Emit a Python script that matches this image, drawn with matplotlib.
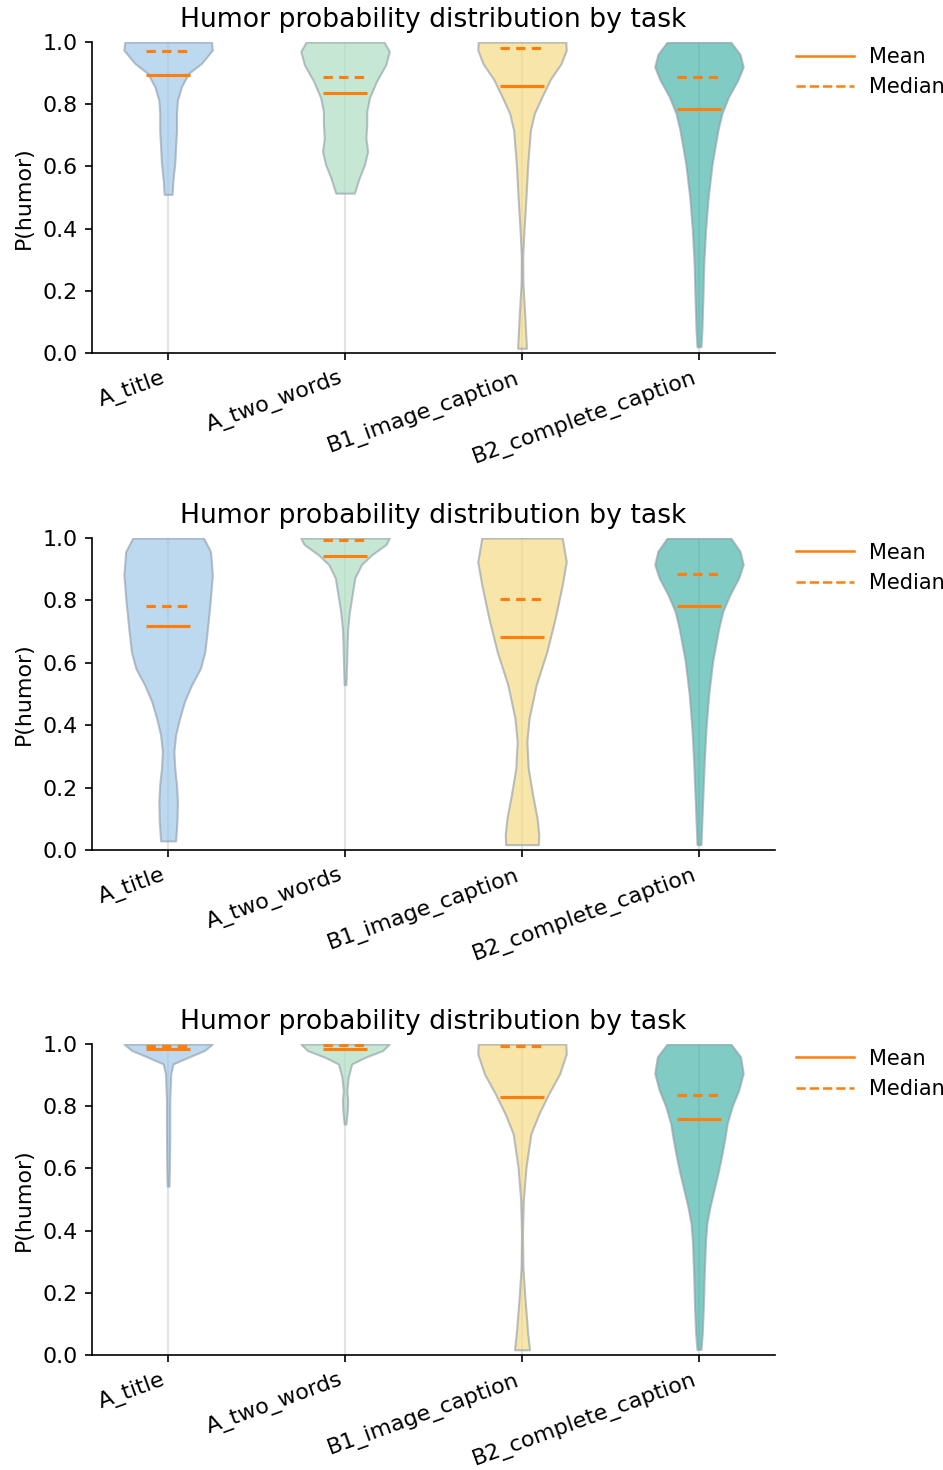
import numpy as np
import matplotlib
matplotlib.use("Agg")
import matplotlib.pyplot as plt
from matplotlib.lines import Line2D
from matplotlib.colors import to_rgba

# tasks and colours
tasks = ["A_title", "A_two_words", "B1_image_caption", "B2_complete_caption"]
colors = ["#a1c9ea", "#b0dec4", "#f5db86", "#4ab5ab"]

# violin outlines: y level -> relative half width
# panel 1
p1_y = [
    [1.0, 0.974, 0.931, 0.899, 0.856, 0.813, 0.771, 0.717, 0.663, 0.610, 0.556, 0.51],
    [1.0, 0.97, 0.927, 0.874, 0.82, 0.777, 0.734, 0.691, 0.648, 0.606, 0.563, 0.514],
    [1.0, 0.974, 0.93, 0.88, 0.824, 0.771, 0.717, 0.61, 0.503, 0.396, 0.31, 0.225, 0.128, 0.015],
    [1.0, 0.96, 0.92, 0.878, 0.824, 0.771, 0.717, 0.61, 0.503, 0.396, 0.289, 0.181, 0.074, 0.02],
]
p1_w = [
    [0.98, 1.0, 0.75, 0.46, 0.30, 0.21, 0.19, 0.19, 0.17, 0.15, 0.11, 0.09],
    [0.88, 1.0, 0.92, 0.71, 0.55, 0.49, 0.49, 0.47, 0.51, 0.44, 0.32, 0.21],
    [0.99, 1.0, 0.88, 0.64, 0.45, 0.28, 0.19, 0.13, 0.09, 0.045, 0.015, 0.02, 0.06, 0.10],
    [0.72, 0.93, 1.0, 0.88, 0.67, 0.52, 0.43, 0.30, 0.21, 0.15, 0.11, 0.09, 0.067, 0.045],
]
p1_mean = [0.895, 0.835, 0.858, 0.785]
p1_median = [0.970, 0.889, 0.980, 0.888]

# panel 2
p2_y = [
    [1.0, 0.956, 0.881, 0.796, 0.711, 0.635, 0.582, 0.529, 0.476, 0.422, 0.369, 0.316, 0.262,
     0.209, 0.156, 0.092, 0.029],
    [1.0, 0.98, 0.946, 0.915, 0.872, 0.818, 0.765, 0.712, 0.658, 0.605, 0.53],
    [1.0, 0.924, 0.85, 0.743, 0.635, 0.529, 0.422, 0.348, 0.262, 0.177, 0.102, 0.049, 0.017],
    [1.0, 0.957, 0.915, 0.872, 0.818, 0.765, 0.712, 0.605, 0.498, 0.39, 0.284, 0.177, 0.07, 0.017],
]
p2_w = [
    [0.80, 0.96, 1.0, 0.95, 0.89, 0.83, 0.73, 0.53, 0.37, 0.26, 0.17, 0.13, 0.15,
     0.19, 0.21, 0.20, 0.17],
    [1.0, 0.93, 0.60, 0.37, 0.22, 0.16, 0.10, 0.06, 0.045, 0.037, 0.02],
    [0.91, 1.0, 0.91, 0.75, 0.56, 0.32, 0.16, 0.11, 0.14, 0.24, 0.34, 0.38, 0.37],
    [0.72, 0.93, 1.0, 0.90, 0.70, 0.54, 0.45, 0.31, 0.22, 0.16, 0.12, 0.09, 0.06, 0.045],
]
p2_mean = [0.717, 0.943, 0.683, 0.783]
p2_median = [0.783, 0.994, 0.804, 0.886]

# panel 3
p3_y = [
    [1.0, 0.979, 0.957, 0.936, 0.904, 0.818, 0.711, 0.604, 0.543],
    [1.0, 0.979, 0.957, 0.936, 0.893, 0.85, 0.818, 0.786, 0.743],
    [1.0, 0.968, 0.904, 0.839, 0.775, 0.711, 0.604, 0.497, 0.39, 0.282, 0.175, 0.068, 0.017],
    [1.0, 0.959, 0.906, 0.852, 0.799, 0.745, 0.692, 0.638, 0.584, 0.531, 0.477, 0.423, 0.37,
     0.262, 0.155, 0.07, 0.018],
]
p3_w = [
    [1.0, 0.82, 0.45, 0.11, 0.06, 0.037, 0.037, 0.03, 0.02],
    [1.0, 0.85, 0.45, 0.15, 0.07, 0.04, 0.06, 0.05, 0.02],
    [0.99, 1.0, 0.85, 0.60, 0.38, 0.20, 0.09, 0.03, 0.01, 0.02, 0.07, 0.13, 0.17],
    [0.72, 0.94, 1.0, 0.90, 0.75, 0.64, 0.58, 0.51, 0.43, 0.34, 0.25, 0.18, 0.15,
     0.12, 0.10, 0.075, 0.045],
]
p3_mean = [0.985, 0.985, 0.829, 0.759]
p3_median = [0.995, 0.997, 0.994, 0.835]

panels = [
    (p1_y, p1_w, p1_mean, p1_median),
    (p2_y, p2_w, p2_mean, p2_median),
    (p3_y, p3_w, p3_mean, p3_median),
]
# axes boxes in figure fraction (left, bottom, width, height)
boxes = [
    [0.0976, 0.7599, 0.7243, 0.2115],
    [0.0976, 0.4218, 0.7243, 0.2122],
    [0.0976, 0.0782, 0.7243, 0.2116],
]

plt.rcParams["font.size"] = 10.6

fig = plt.figure(figsize=(943 / 150, 1470 / 150), dpi=150)
positions = np.arange(len(tasks))

for (ys, ws, means, medians), box in zip(panels, boxes):
    ax = fig.add_axes(box)
    stats = []
    for y, w, m, md in zip(ys, ws, means, medians):
        stats.append({"coords": np.array(y), "vals": np.array(w),
                      "mean": m, "median": md, "min": min(y), "max": max(y)})
    parts = ax.violin(stats, positions=positions, widths=0.5,
                      showmeans=True, showmedians=True, showextrema=False)
    for body, c in zip(parts["bodies"], colors):
        body.set_alpha(None)
        body.set_facecolor(to_rgba(c, 0.7))
        body.set_edgecolor(to_rgba("#8c99a6", 0.6))
        body.set_linewidth(1.0)
        body.set_zorder(2)
    parts["cmeans"].set_color("#ff7f0e")
    parts["cmeans"].set_linewidth(1.5)
    parts["cmeans"].set_zorder(3)
    parts["cmedians"].set_color("#ff7f0e")
    parts["cmedians"].set_linewidth(1.5)
    parts["cmedians"].set_linestyle((0, (3, 2)))
    parts["cmedians"].set_zorder(3)

    ax.grid(axis="x", color="#dddddd", linewidth=1.0, alpha=0.8)
    ax.set_axisbelow(True)
    ax.set_xlim(-0.43, 3.43)
    ax.set_ylim(0, 1.0)
    ax.set_xticks(positions)
    ax.set_xticklabels(tasks, rotation=20, ha="right")
    ax.set_ylabel("P(humor)")
    ax.set_title("Humor probability distribution by task", fontsize=12.8, pad=7)
    ax.spines["top"].set_visible(False)
    ax.spines["right"].set_visible(False)

    handles = [Line2D([], [], color="#ff7f0e", lw=1.2, label="Mean"),
               Line2D([], [], color="#ff7f0e", lw=1.2, ls="--", label="Median")]
    ax.legend(handles=handles, loc="upper left", bbox_to_anchor=(1.003, 1.045),
              frameon=False, fontsize=10, handlelength=2.8, handletextpad=0.7)

fig.savefig("out.png", dpi=150)
